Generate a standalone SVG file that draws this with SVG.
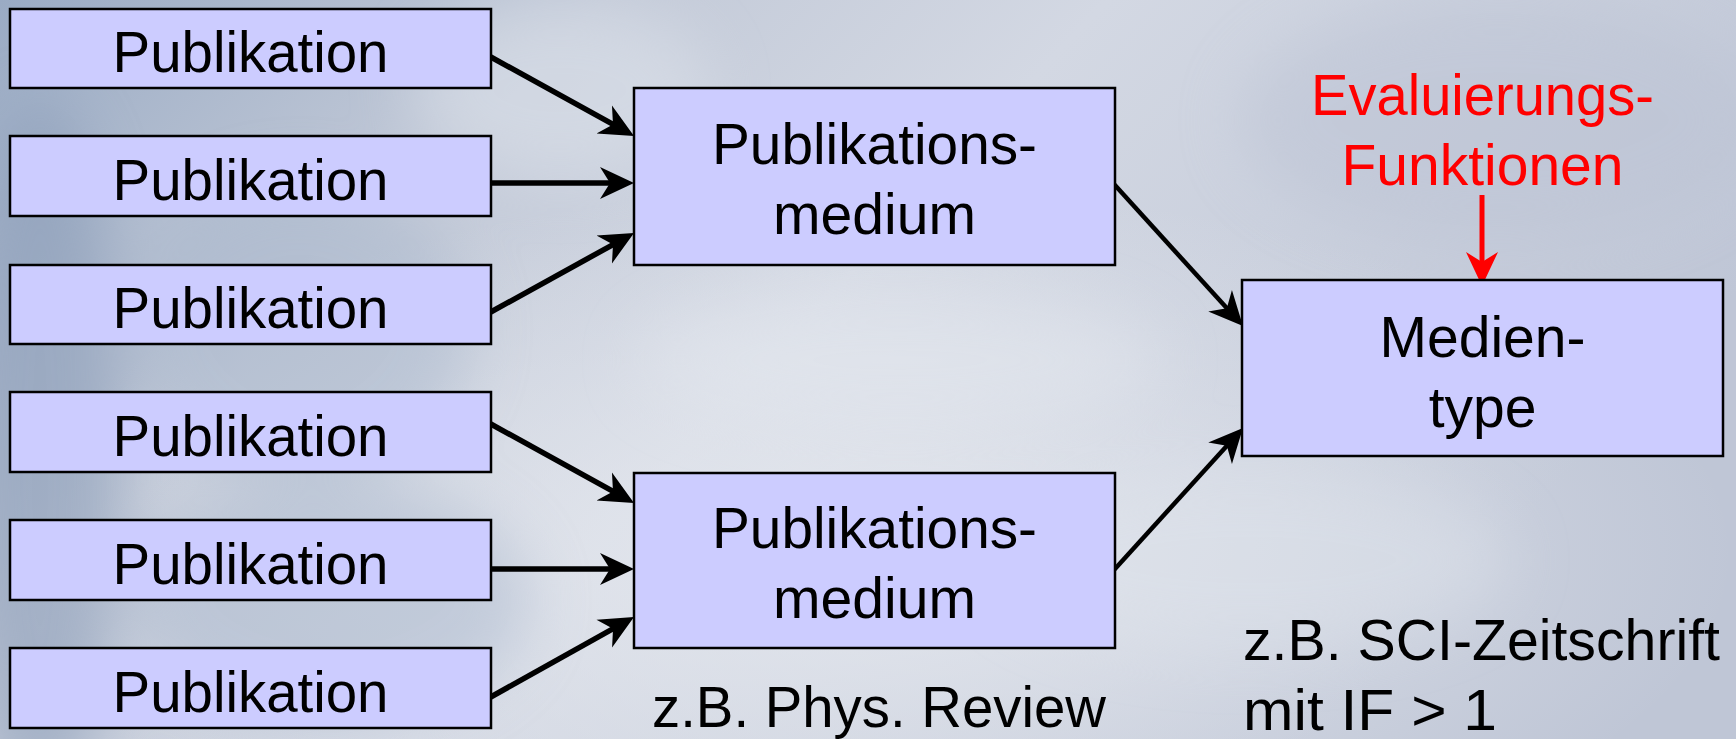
<svg xmlns="http://www.w3.org/2000/svg" width="1736" height="739" viewBox="0 0 1736 739">
  <defs>
    <linearGradient id="bgBase" x1="0" y1="0" x2="1" y2="0.4">
      <stop offset="0" stop-color="#9aabc4"/>
      <stop offset="0.3" stop-color="#c3cad8"/>
      <stop offset="0.55" stop-color="#d3d8e3"/>
      <stop offset="1" stop-color="#bfc6d6"/>
    </linearGradient>
    <radialGradient id="bgGlow" cx="0.5" cy="0.75" r="0.5">
      <stop offset="0" stop-color="#e6e9ef" stop-opacity="0.9"/>
      <stop offset="1" stop-color="#e6e9ef" stop-opacity="0"/>
    </radialGradient>
    <filter id="soft" x="-30%" y="-30%" width="160%" height="160%">
      <feGaussianBlur stdDeviation="30"/>
    </filter>
    <marker id="head" viewBox="0 0 34 34" markerUnits="userSpaceOnUse" markerWidth="34" markerHeight="34" refX="22" refY="17" orient="auto">
      <path d="M34,17 L0,1 L10,17 L0,33 Z" fill="#000"/>
    </marker>
    <marker id="headRed" viewBox="0 0 34 34" markerUnits="userSpaceOnUse" markerWidth="34" markerHeight="34" refX="22" refY="17" orient="auto">
      <path d="M34,17 L0,1 L10,17 L0,33 Z" fill="#ff0000"/>
    </marker>
  </defs>
  <style>
    .box { fill: #ccccff; stroke: #000; stroke-width: 2.5; }
    .lbl { font-family: "Liberation Sans", Arial, sans-serif; font-size: 57px; fill: #000; text-anchor: middle; }
    .note { font-family: "Liberation Sans", Arial, sans-serif; font-size: 57px; fill: #000; }
    .red { fill: #ff0000; }
    .edge { fill: none; stroke: #000; stroke-width: 5.5; marker-end: url(#head); }
    .edge.thin { stroke-width: 4.5; }
    .edge.eval { stroke: #ff0000; stroke-width: 5; marker-end: url(#headRed); }
  </style>

  <!-- backdrop: soft blue-grey wash with faint sculpted shapes on the left -->
  <g id="backdrop">
    <rect width="1736" height="739" fill="url(#bgBase)"/>
    <rect width="1736" height="739" fill="url(#bgGlow)"/>
    <g filter="url(#soft)" opacity="0.5">
      <ellipse cx="40" cy="460" rx="80" ry="360" fill="#8396b3"/>
      <ellipse cx="300" cy="330" rx="170" ry="150" fill="#a9b7cc"/>
      <ellipse cx="330" cy="600" rx="200" ry="120" fill="#aab8cd"/>
      <ellipse cx="560" cy="90" rx="150" ry="90" fill="#dfe4ec"/>
      <ellipse cx="900" cy="360" rx="260" ry="70" fill="#e3e7ee"/>
      <ellipse cx="1250" cy="560" rx="260" ry="90" fill="#dde2ea"/>
      <ellipse cx="1500" cy="120" rx="260" ry="120" fill="#bcc3d4"/>
    </g>
  </g>

  <!-- connectors -->
  <g id="connectors">
    <line class="edge" x1="489" y1="56" x2="623.5" y2="130.2"/>
    <line class="edge" x1="489" y1="183" x2="622" y2="183"/>
    <line class="edge" x1="489" y1="313" x2="623.5" y2="238.8"/>
    <line class="edge" x1="489" y1="423" x2="623.5" y2="497.2"/>
    <line class="edge" x1="489" y1="569" x2="622" y2="569"/>
    <line class="edge" x1="489" y1="698" x2="623.5" y2="622.9"/>
    <line class="edge thin" x1="1113" y1="183" x2="1234.9" y2="317.1"/>
    <line class="edge thin" x1="1114" y1="570" x2="1234.9" y2="436.9"/>
    <line class="edge eval" x1="1482" y1="195" x2="1482" y2="274"/>
  </g>

  <!-- publications -->
  <g id="pub1"><rect class="box" x="10" y="9" width="481" height="79"/><text class="lbl" x="250.5" y="72" textLength="276" lengthAdjust="spacingAndGlyphs">Publikation</text></g>
  <g id="pub2"><rect class="box" x="10" y="136" width="481" height="80"/><text class="lbl" x="250.5" y="200" textLength="276" lengthAdjust="spacingAndGlyphs">Publikation</text></g>
  <g id="pub3"><rect class="box" x="10" y="265" width="481" height="79"/><text class="lbl" x="250.5" y="328" textLength="276" lengthAdjust="spacingAndGlyphs">Publikation</text></g>
  <g id="pub4"><rect class="box" x="10" y="392" width="481" height="80"/><text class="lbl" x="250.5" y="456" textLength="276" lengthAdjust="spacingAndGlyphs">Publikation</text></g>
  <g id="pub5"><rect class="box" x="10" y="520" width="481" height="80"/><text class="lbl" x="250.5" y="584" textLength="276" lengthAdjust="spacingAndGlyphs">Publikation</text></g>
  <g id="pub6"><rect class="box" x="10" y="648" width="481" height="80"/><text class="lbl" x="250.5" y="712" textLength="276" lengthAdjust="spacingAndGlyphs">Publikation</text></g>

  <!-- publication media -->
  <g id="medium1">
    <rect class="box" x="634" y="88" width="481" height="177"/>
    <text class="lbl" x="874.5" y="164" textLength="325" lengthAdjust="spacingAndGlyphs">Publikations-</text>
    <text class="lbl" x="874.5" y="234" textLength="203" lengthAdjust="spacingAndGlyphs">medium</text>
  </g>
  <g id="medium2">
    <rect class="box" x="634" y="473" width="481" height="175"/>
    <text class="lbl" x="874.5" y="548" textLength="325" lengthAdjust="spacingAndGlyphs">Publikations-</text>
    <text class="lbl" x="874.5" y="618" textLength="203" lengthAdjust="spacingAndGlyphs">medium</text>
  </g>

  <!-- media type -->
  <g id="medientype">
    <rect class="box" x="1242" y="280" width="481" height="176"/>
    <text class="lbl" x="1482.5" y="357">Medien-</text>
    <text class="lbl" x="1482.5" y="427">type</text>
  </g>

  <!-- evaluation functions -->
  <g id="evaluierung">
    <text class="lbl red" x="1482.5" y="115" textLength="343" lengthAdjust="spacingAndGlyphs">Evaluierungs-</text>
    <text class="lbl red" x="1482.5" y="185">Funktionen</text>
  </g>

  <!-- examples -->
  <g id="examples">
    <text class="note" x="652" y="727" textLength="454" lengthAdjust="spacingAndGlyphs">z.B. Phys. Review</text>
    <text class="note" x="1243" y="660" textLength="477" lengthAdjust="spacingAndGlyphs">z.B. SCI-Zeitschrift</text>
    <text class="note" x="1243" y="730" textLength="254" lengthAdjust="spacingAndGlyphs">mit IF &gt; 1</text>
  </g>
</svg>
